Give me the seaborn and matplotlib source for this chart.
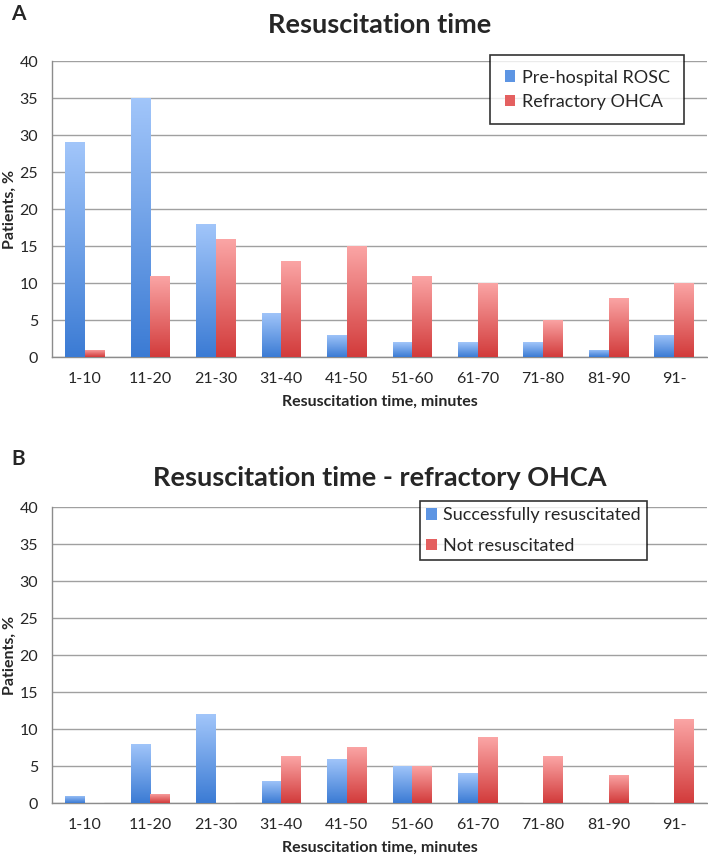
import numpy as np
import pandas as pd
import matplotlib
matplotlib.use("Agg")
import matplotlib.pyplot as plt
from matplotlib.colors import LinearSegmentedColormap
from matplotlib.patches import Patch
import seaborn as sns

# data
categories = ["1-10", "11-20", "21-30", "31-40", "41-50",
              "51-60", "61-70", "71-80", "81-90", "91-"]
a_rosc = [29, 35, 18, 6, 3, 2, 2, 2, 1, 3]
a_refractory = [1, 11, 16, 13, 15, 11, 10, 5, 8, 10]
b_success = [1, 8, 12, 3, 6, 5, 4, 0, 0, 0]
b_not = [0, 1.25, 0, 6.3, 7.6, 5, 8.9, 6.3, 3.8, 11.4]

sns.set_style("white")
plt.rcParams["font.family"] = ["Lato", "DejaVu Sans"]

blue_cmap = LinearSegmentedColormap.from_list("b", ["#3b7bd4", "#a2c6fa"])
red_cmap = LinearSegmentedColormap.from_list("r", ["#d23b3b", "#fba6a6"])


def long_df(s1, s2, n1, n2):
    return pd.DataFrame({
        "cat": categories * 2,
        "val": list(s1) + list(s2),
        "series": [n1] * len(categories) + [n2] * len(categories),
    })


def gradient_bars(ax, cmaps):
    # fill each seaborn bar with a vertical gradient (Excel look)
    grad = np.linspace(0, 1, 256).reshape(-1, 1)
    for container, cm in zip(ax.containers, cmaps):
        for p in container.patches:
            h = p.get_height()
            if h <= 0:
                continue
            x0 = p.get_x()
            w = p.get_width()
            im = ax.imshow(grad, cmap=cm, origin="lower", aspect="auto",
                           extent=[x0, x0 + w, 0, h], zorder=3)
            im.set_clip_path(p)
            p.set_facecolor("none")
            p.set_edgecolor("none")


def draw_panel(ax, s1, s2, n1, n2, title, title_pad, leg_anchor, leg_kw):
    df = long_df(s1, s2, n1, n2)
    sns.barplot(data=df, x="cat", y="val", hue="series", ax=ax,
                width=0.6, palette=["#6a9fe8", "#e86c6c"], legend=False,
                zorder=3)
    gradient_bars(ax, [blue_cmap, red_cmap])
    ax.set_xlim(-0.5, len(categories) - 0.5)
    ax.set_ylim(0, 40)
    ax.set_yticks(range(0, 41, 5))
    ax.yaxis.grid(True, color="#a0a0a0", linewidth=1.0, zorder=0)
    ax.set_axisbelow(True)
    for s in ["top", "right"]:
        ax.spines[s].set_visible(False)
    for s in ["left", "bottom"]:
        ax.spines[s].set_color("#8c8c8c")
        ax.spines[s].set_linewidth(1.0)
    ax.set_xticks(np.arange(-0.5, len(categories), 1.0), minor=True)
    ax.tick_params(axis="x", which="major", length=0, labelsize=11.5, pad=11)
    ax.tick_params(axis="x", which="minor", length=5, color="#8c8c8c",
                   direction="out")
    ax.tick_params(axis="y", length=4, color="#8c8c8c", labelsize=11.5,
                   pad=6)
    ax.set_xlabel("Resuscitation time, minutes", fontsize=11.5,
                  fontweight="bold", labelpad=6)
    ax.set_ylabel("Patients, %", fontsize=11.5, fontweight="bold",
                  labelpad=2)
    ax.set_title(title, fontsize=19.5, fontweight="bold", pad=title_pad)
    handles = [Patch(facecolor="#5d95e3", edgecolor="none", label=n1),
               Patch(facecolor="#e46060", edgecolor="none", label=n2)]
    leg = ax.legend(handles=handles, loc="upper left",
                    bbox_to_anchor=leg_anchor, frameon=True, fontsize=13,
                    handlelength=0.6, handleheight=0.6, handletextpad=0.35,
                    borderaxespad=0, fancybox=False, **leg_kw)
    leg.get_frame().set_edgecolor("black")
    leg.get_frame().set_linewidth(1.2)


fig = plt.figure(figsize=(7.08, 8.57), dpi=100)
ax_a = fig.add_axes([0.0734, 0.5834, 0.925, 0.3454])
ax_b = fig.add_axes([0.0734, 0.0630, 0.925, 0.3454])

draw_panel(ax_a, a_rosc, a_refractory, "Pre-hospital ROSC",
           "Refractory OHCA", "Resuscitation time", 20, (0.669, 1.02),
           dict(borderpad=0.8, labelspacing=0.45))
draw_panel(ax_b, b_success, b_not, "Successfully resuscitated",
           "Not resuscitated", "Resuscitation time - refractory OHCA", 15,
           (0.562, 1.02), dict(borderpad=0.35, labelspacing=0.8))

fig.text(0.016, 1 - 4 / 857, "A", fontsize=15, fontweight="bold",
         ha="left", va="top")
fig.text(0.016, 1 - 449 / 857, "B", fontsize=15, fontweight="bold",
         ha="left", va="top")

fig.savefig("out.png", dpi=100)
